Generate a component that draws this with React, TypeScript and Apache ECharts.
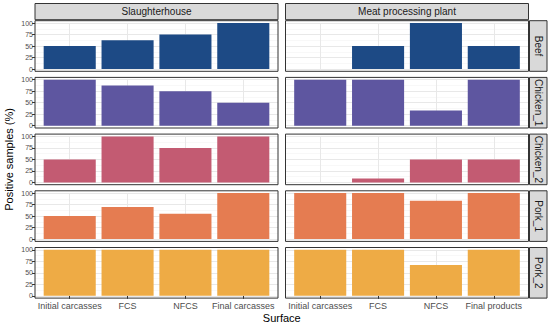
import React, { useEffect, useRef } from "react";
import * as echarts from "echarts";

const columnLabels = ["Slaughterhouse", "Meat processing plant"];
const rowLabels = ["Beef", "Chicken_1", "Chicken_2", "Pork_1", "Pork_2"];
const surfacesSlaughterhouse = ["Initial carcasses", "FCS", "NFCS", "Final carcasses"];
const surfacesPlant = ["Initial carcasses", "FCS", "NFCS", "Final products"];
const yTicks = [0, 25, 50, 75, 100];

const beefSlaughterhouse = [50, 62.5, 75, 100];
const beefPlant = [0, 50, 100, 50];
const chicken1Slaughterhouse = [100, 87.5, 75, 50];
const chicken1Plant = [100, 100, 33.3, 100];
const chicken2Slaughterhouse = [50, 100, 75, 100];
const chicken2Plant = [0, 8.3, 50, 50];
const pork1Slaughterhouse = [50, 70, 55, 100];
const pork1Plant = [100, 100, 83.3, 100];
const pork2Slaughterhouse = [100, 100, 100, 100];
const pork2Plant = [100, 100, 66.7, 100];

const rowColors = ["#1d4a85", "#5e56a0", "#c35b72", "#e57c51", "#eeab45"];

const panelValues = [
  [beefSlaughterhouse, beefPlant],
  [chicken1Slaughterhouse, chicken1Plant],
  [chicken2Slaughterhouse, chicken2Plant],
  [pork1Slaughterhouse, pork1Plant],
  [pork2Slaughterhouse, pork2Plant],
];
const columnSurfaces = [surfacesSlaughterhouse, surfacesPlant];

const W = 550;
const H = 326;
const panelLeft = [35, 285.5];
const panelW = 243;
const panelTop0 = 20.7;
const rowPitch = 56.7;
const panelH = 50.6;
const expandX = (panelW / 4.2) * 0.1;
const expandY = (panelH * 0.05) / 1.1;
const FONT = "Liberation Sans, Arial, Helvetica, sans-serif";
const GRIDLINE = "#e8e8e8";

export default function App() {
  const ref = useRef<HTMLDivElement>(null);
  useEffect(() => {
    document.body.style.margin = "0";
    const chart = echarts.init(ref.current!, null, { renderer: "svg", width: W, height: H });
    const grid: any[] = [];
    const xAxis: any[] = [];
    const yAxis: any[] = [];
    const series: any[] = [];
    const graphic: any[] = [];
    const nR = rowLabels.length;
    for (let r = 0; r < nR; r++) {
      for (let c = 0; c < 2; c++) {
        const pl = panelLeft[c];
        const pt = panelTop0 + r * rowPitch;
        const k = r * 2 + c;
        const bottom = r === nR - 1;
        grid.push({
          left: pl + expandX,
          top: pt + expandY,
          width: panelW - 2 * expandX,
          height: panelH - 2 * expandY,
        });
        xAxis.push({
          type: "category",
          gridIndex: k,
          data: columnSurfaces[c],
          offset: expandY,
          axisLine: { show: false },
          axisTick: { show: bottom, alignWithLabel: true, length: 3, lineStyle: { color: "#333333", width: 1 } },
          axisLabel: { show: bottom, interval: 0, fontSize: 9, color: "#4d4d4d", fontFamily: FONT, margin: 3 },
          splitLine: { show: false },
        });
        yAxis.push({ type: "value", gridIndex: k, min: 0, max: 100, show: false });
        series.push({
          type: "line",
          xAxisIndex: k,
          yAxisIndex: k,
          data: [],
          z: 1,
          silent: true,
          markLine: {
            silent: true,
            z: 1,
            symbol: "none",
            label: { show: false },
            lineStyle: { color: GRIDLINE, width: 1, type: "solid" },
            emphasis: { disabled: true },
            data: columnSurfaces[c].map((s) => ({ xAxis: s, lineStyle: { color: GRIDLINE } })),
          },
        });
        series.push({
          type: "bar",
          xAxisIndex: k,
          yAxisIndex: k,
          data: panelValues[r][c],
          barWidth: "90%",
          itemStyle: { color: rowColors[r] },
          z: 3,
          silent: true,
        });
      }
    }
    for (let r = 0; r < nR; r++) {
      for (let c = 0; c < 2; c++) {
        const pl = panelLeft[c];
        const pt = panelTop0 + r * rowPitch;
        const k = nR * 2 + r * 2 + c;
        grid.push({ left: pl, top: pt + expandY, width: panelW, height: panelH - 2 * expandY });
        xAxis.push({ type: "value", gridIndex: k, min: 0, max: 1, show: false });
        yAxis.push({
          type: "value",
          gridIndex: k,
          min: yTicks[0],
          max: yTicks[yTicks.length - 1],
          interval: yTicks[1] - yTicks[0],
          axisLine: { show: false },
          axisTick: { show: c === 0, length: 3, lineStyle: { color: "#333333", width: 1 } },
          axisLabel: { show: c === 0, fontSize: 7, color: "#4d4d4d", fontFamily: FONT, margin: 2 },
          splitLine: { show: true, lineStyle: { color: GRIDLINE, width: 1 } },
          minorTick: { show: false, splitNumber: 2 },
          minorSplitLine: { show: true, lineStyle: { color: "#f3f3f3", width: 0.6 } },
        });
      }
    }
    for (let r = 0; r < nR; r++) {
      const pt = panelTop0 + r * rowPitch;
      for (let c = 0; c < 2; c++) {
        graphic.push({
          type: "rect",
          z: 100,
          silent: true,
          shape: { x: panelLeft[c], y: pt, width: panelW, height: panelH },
          style: { fill: "none", stroke: "#333333", lineWidth: 1 },
        });
      }
      const sx = panelLeft[1] + panelW + 1;
      graphic.push({
        type: "rect",
        z: 100,
        silent: true,
        shape: { x: sx, y: pt, width: 17.5, height: panelH },
        style: { fill: "#d9d9d9", stroke: "#333333", lineWidth: 1 },
      });
      graphic.push({
        type: "text",
        z: 101,
        silent: true,
        x: sx + 8.75,
        y: pt + panelH / 2,
        rotation: -Math.PI / 2,
        style: {
          text: rowLabels[r],
          fontSize: 10,
          fontFamily: FONT,
          fill: "#1a1a1a",
          align: "center",
          verticalAlign: "middle",
        },
      });
    }
    for (let c = 0; c < 2; c++) {
      graphic.push({
        type: "rect",
        z: 100,
        silent: true,
        shape: { x: panelLeft[c], y: 3.5, width: panelW, height: panelTop0 - 4.5 },
        style: { fill: "#d9d9d9", stroke: "#333333", lineWidth: 1 },
      });
      graphic.push({
        type: "text",
        z: 101,
        silent: true,
        x: panelLeft[c] + panelW / 2,
        y: 3.5 + (panelTop0 - 4.5) / 2,
        style: {
          text: columnLabels[c],
          fontSize: 10,
          fontFamily: FONT,
          fill: "#1a1a1a",
          align: "center",
          verticalAlign: "middle",
        },
      });
    }
    const lastBottom = panelTop0 + (nR - 1) * rowPitch + panelH;
    graphic.push({
      type: "text",
      silent: true,
      x: (panelLeft[0] + panelLeft[1] + panelW) / 2,
      y: 318,
      style: { text: "Surface", fontSize: 11, fontFamily: FONT, fill: "#000000", align: "center", verticalAlign: "middle" },
    });
    graphic.push({
      type: "text",
      silent: true,
      x: 8.5,
      y: (panelTop0 + lastBottom) / 2,
      rotation: Math.PI / 2,
      style: {
        text: "Positive samples (%)",
        fontSize: 11,
        fontFamily: FONT,
        fill: "#000000",
        align: "center",
        verticalAlign: "middle",
      },
    });

    chart.setOption({
      animation: false,
      backgroundColor: "#ffffff",
      grid,
      xAxis,
      yAxis,
      series,
      graphic,
    });
    return () => chart.dispose();
  }, []);
  return <div ref={ref} style={{ width: W, height: H }} />;
}
